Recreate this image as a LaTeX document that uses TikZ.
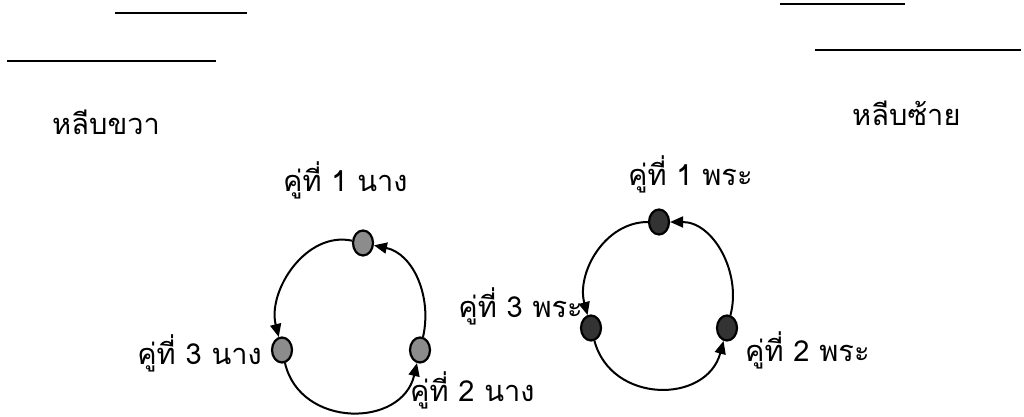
\documentclass[tikz,border=0pt]{standalone}
\usepackage{fontspec}
\newfontfamily\thaifont[Script=Thai]{Loma}
\usetikzlibrary{shapes.geometric, arrows.meta, positioning}

\begin{document}
\begin{tikzpicture}[
  x=1pt, y=1pt,
  dot/.style={ellipse, draw, line width=2.2pt, minimum width=20pt, minimum height=25pt, inner sep=0pt},
  nangdot/.style={dot, fill=black!45},
  phradot/.style={dot, fill=black!80},
  lbl/.style={anchor=base west, inner sep=0pt, font=\thaifont\fontsize{29}{34}\selectfont},
  arrow/.style={-{Triangle[length=13pt,width=11pt]}, line width=2pt},
  blank/.style={line width=2.2pt}
]
\useasboundingbox (0,0) rectangle (1024,417);

% blanks at the top
\draw[blank] (115,404) -- (247,404);
\draw[blank] (7,356) -- (216,356);
\draw[blank] (780,413) -- (905,413);
\draw[blank] (815,367) -- (1021,367);

% lobe titles
\node[lbl] (lobeR) at (52,282) {หลีบขวา};
\node[lbl] (lobeL) at (852,291) {หลีบซ้าย};

% left ring (nang)
\node[nangdot] (nang1) at (363,174) {};
\node[nangdot] (nang2) at (420,67) {};
\node[nangdot] (nang3) at (282,67) {};

\draw[arrow] (nang2) to[out=77,in=-12] (nang1);
\draw[arrow] (nang1) to[out=168,in=104] (nang3);
\draw[arrow] (nang3) to[out=-77,in=-103,looseness=1.3] (nang2);

\node[lbl] (nang1lbl) at (283,225) {คู่ที่ 1 นาง};
\node[lbl] (nang2lbl) at (410,15) {คู่ที่ 2 นาง};
\node[lbl, anchor=base east] (nang3lbl) at (262,52) {คู่ที่ 3 นาง};

% right ring (phra)
\node[phradot] (phra1) at (659,195) {};
\node[phradot] (phra2) at (727,89) {};
\node[phradot] (phra3) at (591,89) {};

\draw[arrow] (phra2) to[out=75,in=0] (phra1);
\draw[arrow] (phra1) to[out=180,in=105] (phra3);
\draw[arrow] (phra3) to[out=-75,in=-105,looseness=1.3] (phra2);

\node[lbl] (phra1lbl) at (628,231) {คู่ที่ 1 พระ};
\node[lbl] (phra2lbl) at (745,55) {คู่ที่ 2 พระ};
\node[lbl, anchor=base east] (phra3lbl) at (583,99) {คู่ที่ 3 พระ};

\end{tikzpicture}
\end{document}
